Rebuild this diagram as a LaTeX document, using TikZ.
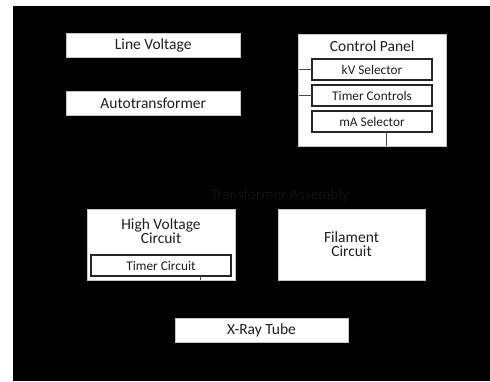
\documentclass[tikz,border=0pt]{standalone}
\usepackage{fontspec}
\setmainfont{Carlito}
\usepackage{xcolor}
\usetikzlibrary{positioning, calc}

\definecolor{faint}{rgb}{0.07,0.07,0.07}

\begin{document}
\begin{tikzpicture}[
        x=1pt, y=-1pt,
        base/.style={
            fill=white, align=center, inner sep=0pt, outer sep=0pt,
            text=black!88, font=\fontsize{15.5}{14}\selectfont
        },
        block/.style={base, draw=gray!45, minimum width=173.5pt, minimum height=24pt},
        panel/.style={base, draw=gray!45, minimum width=147.5pt, minimum height=112pt},
        circ/.style={base, draw=gray!45, minimum width=147.5pt, minimum height=71pt},
        inner/.style={base, draw=black!85, line width=1.2pt, minimum width=120pt,
            minimum height=21pt, font=\fontsize{13.3}{14}\selectfont},
        tie/.style={draw=black!70, line width=0.6pt}
    ]

        % Fundo
        \fill[white] (0,0) rectangle (490,381);
        \fill[black] (13,6) rectangle (490,381);

        % Nós (Blocos)
        \node[block] (line) at (153.25,45) {Line Voltage};

        \node[block, below=34pt of line] (auto) {Autotransformer};

        \node[panel] (cp) at (372.25,90) {};
        \node[base, fill=none] (cptitle) at ($(cp.north)+(0,12.5)$) {Control Panel};

        \node[inner] (kv) at (372,69.5) {kV Selector};
        \node[inner, below=5pt of kv] (tc) {Timer Controls};
        \node[inner, below=5pt of tc] (ma) {mA Selector};

        \node[text=faint, font=\fontsize{15.3}{14}\selectfont] (ta) at (280,195) {Transformer Assembly};

        \node[circ] (hv) at (161,244.5) {};
        \node[base, fill=none] (hvtitle) at (161,231) {High Voltage \\ Circuit};
        \node[inner, minimum width=140pt] (tmc) at (161,265.5) {Timer Circuit};

        \node[circ, right=43pt of hv] (fil) {Filament \\ Circuit};

        \node[block] (tube) at (261.5,330) {X-Ray Tube};

        % Ligações
        \draw[tie] (kv.west) -- (kv.west -| cp.west);
        \draw[tie] (tc.west) -- (tc.west -| cp.west);
        \draw[tie] ([xshift=14pt]ma.south) -- ([xshift=14pt]ma.south |- cp.south);
        \draw[tie] ([xshift=39pt]tmc.south) -- ([xshift=39pt]tmc.south |- hv.south);

    \end{tikzpicture}
\end{document}
